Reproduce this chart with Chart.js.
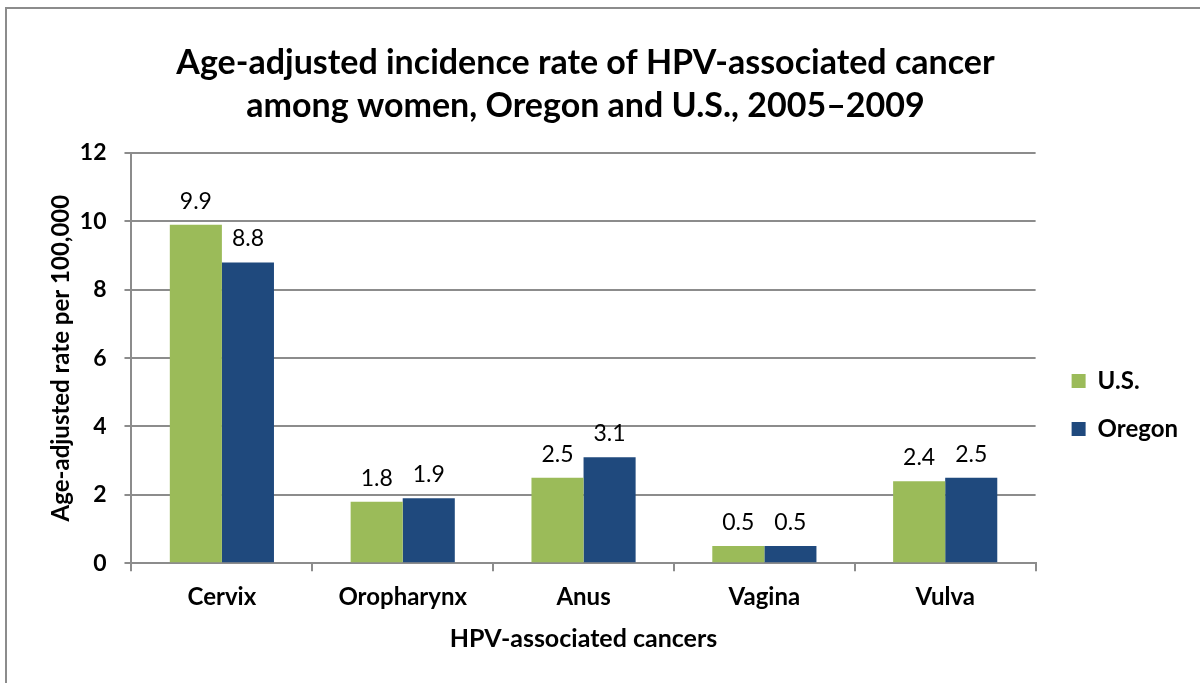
<!DOCTYPE html>
<html>
<head>
<meta charset="utf-8">
<script src="https://cdn.jsdelivr.net/npm/chart.js@4.4.0/dist/chart.umd.min.js"></script>
<style>
  html, body { margin: 0; padding: 0; background: #fff; overflow: hidden; }
  #wrap { position: relative; width: 1200px; height: 683px; }
  #frame { position: absolute; left: 5px; top: 7px; width: 1300px; height: 800px; border-left: 2px solid #8c8c8c; border-top: 2px solid #8c8c8c; }
  canvas { position: absolute; left: 0; top: 0; }
</style>
</head>
<body>
<div id="wrap">
  <div id="frame"></div>
  <canvas id="hpvChart" width="1200" height="683"></canvas>
</div>
<script>
// categories and values
var cancer_types = ['Cervix', 'Oropharynx', 'Anus', 'Vagina', 'Vulva'];
var us_rate = [9.9, 1.8, 2.5, 0.5, 2.4];
var oregon_rate = [8.8, 1.9, 3.1, 0.5, 2.5];
var y_ticks = [0, 2, 4, 6, 8, 10, 12];

var fontName = 'Lato, "DejaVu Sans", sans-serif';

// draws the number above each bar
var barValueLabels = {
    id: 'barValueLabels',
    afterDatasetsDraw: function (chart) {
        var ctx = chart.ctx;
        ctx.save();
        ctx.font = '23px ' + fontName;
        ctx.fillStyle = '#000';
        ctx.textAlign = 'center';
        ctx.textBaseline = 'bottom';
        chart.data.datasets.forEach(function (ds, i) {
            chart.getDatasetMeta(i).data.forEach(function (bar, j) {
                ctx.fillText(ds.data[j].toFixed(1), bar.x, bar.y - 12);
            });
        });
        ctx.restore();
    }
};

// nudge the legend and title like the excel layout
var boxNudge = {
    id: 'boxNudge',
    afterLayout: function (chart) {
        var lg = chart.legend;
        lg.left += 12; lg.right += 12;
        lg.top += 55; lg.bottom += 55;
        var tb = chart.titleBlock;
        tb.left -= 26; tb.right -= 26;
    }
};

var hpv_chart = new Chart(document.getElementById('hpvChart'), {
    type: 'bar',
    data: {
        labels: cancer_types,
        datasets: [{
            label: 'U.S.',
            data: us_rate,
            backgroundColor: '#9bbb59',
            borderWidth: 0,
            categoryPercentage: 0.576,
            barPercentage: 1.0,
        },
        {
            label: 'Oregon',
            data: oregon_rate,
            backgroundColor: '#1f497d',
            borderWidth: 0,
            categoryPercentage: 0.576,
            barPercentage: 1.0,
        }]
    },
    options: {
        responsive: false,
        animation: false,
        layout: {
            padding: { left: 47, right: 24, top: 42, bottom: 25 }
        },
        plugins: {
            title: {
                display: true,
                text: ['Age-adjusted incidence rate of HPV-associated cancer', 'among women, Oregon and U.S., 2005\u20132009'],
                color: '#000',
                font: { family: fontName, size: 34, weight: 'bold', lineHeight: 1.25 },
                padding: { top: 0, bottom: 26 }
            },
            legend: {
                position: 'right',
                labels: {
                    color: '#000',
                    font: { family: fontName, size: 24, weight: 'bold' },
                    boxWidth: 14,
                    boxHeight: 14,
                    padding: 24,
                }
            },
            tooltip: { enabled: false }
        },
        scales: {
            x: {
                grid: {
                    offset: true,
                    drawOnChartArea: false,
                    color: '#8c8c8c',
                    tickLength: 8,
                    lineWidth: 2
                },
                border: { color: '#8c8c8c', width: 2 },
                ticks: {
                    color: '#000',
                    font: { family: fontName, size: 24, weight: 'bold' },
                    padding: 12
                },
                title: {
                    display: true,
                    text: 'HPV-associated cancers',
                    color: '#000',
                    font: { family: fontName, size: 25, weight: 'bold' },
                    padding: { top: 0 }
                }
            },
            y: {
                min: 0,
                max: 12,
                afterBuildTicks: function (axis) {
                    axis.ticks = y_ticks.map(function (v) { return { value: v }; });
                },
                grid: {
                    color: '#8c8c8c',
                    lineWidth: 2,
                    tickLength: 7
                },
                border: { color: '#8c8c8c', width: 2 },
                ticks: {
                    color: '#000',
                    font: { family: fontName, size: 23, weight: 'bold' },
                    padding: 18
                },
                title: {
                    display: true,
                    text: 'Age-adjusted rate per 100,000',
                    color: '#000',
                    font: { family: fontName, size: 24, weight: 'bold' },
                    padding: { top: 0, bottom: -14 }
                }
            }
        }
    },
    plugins: [barValueLabels, boxNudge]
});
</script>
</body>
</html>
